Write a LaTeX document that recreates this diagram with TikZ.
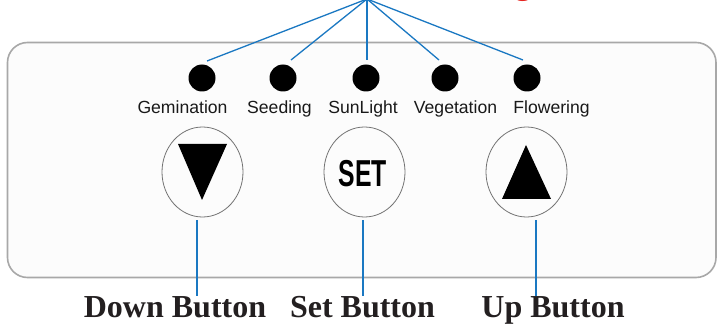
\documentclass[tikz,border=0pt]{standalone}
\usepackage{fontspec}
\usetikzlibrary{shapes.geometric}
\setmainfont{Liberation Serif}
\newfontfamily\arialf{Liberation Sans}
\definecolor{ptr}{HTML}{1A78C2}
\definecolor{frame}{HTML}{A8A8A8}
\definecolor{txt}{HTML}{231F20}
\definecolor{redt}{HTML}{E52521}
\begin{document}
\begin{tikzpicture}[x=1pt,y=-1pt,
  led/.style={circle,fill=black,draw=none,minimum size=27pt,inner sep=0pt},
  ledlabel/.style={anchor=base,inner sep=0pt,font=\arialf\fontsize{17.6}{20}\selectfont,text=black!90},
  btn/.style={ellipse,draw=black!55,line width=0.8pt,minimum width=81pt,minimum height=90pt,inner sep=0pt},
  tri/.style={fill=black},
  ptrline/.style={draw=ptr,line width=1.3pt},
  caption/.style={anchor=base,inner sep=0pt,font=\bfseries\fontsize{32}{36}\selectfont,text=txt}
]
\useasboundingbox (0,0) rectangle (718,326);
\fill[white] (0,0) rectangle (718,326);
% panel
\draw[frame,line width=1.6pt,fill=black!1,rounded corners=20pt] (7.5,42.5) rectangle (716,277.5);
% red fragment of title
\node[anchor=base,inner sep=0pt,font=\bfseries\fontsize{32}{36}\selectfont,text=redt] (ttl) at (523,-5) {g};
% LEDs
\node[led] (l1) at (202,78) {};
\node[led] (l2) at (283,78) {};
\node[led] (l3) at (366,78) {};
\node[led] (l4) at (445,78) {};
\node[led] (l5) at (527,78) {};
\node[ledlabel] (t1) at (182.5,114) {Gemination};
\node[ledlabel] (t2) at (279.5,114) {Seeding};
\node[ledlabel] (t3) at (363,114) {SunLight};
\node[ledlabel] (t4) at (455.5,114) {Vegetation};
\node[ledlabel] (t5) at (551.5,114) {Flowering};
% buttons
\node[btn] (down) at (202.5,172) {};
\node[btn] (set) at (364.5,172) {};
\node[btn] (up) at (526.5,172) {};
\fill[tri] (178,144) -- (227,144) -- (202,200) -- cycle;
\fill[tri] (502,199) -- (551,199) -- (526,145) -- cycle;
\node[anchor=base,inner sep=0pt,xscale=0.66,font=\arialf\bfseries\fontsize{37.5}{40}\selectfont] (settxt) at (363,186) {SET};
% captions
\node[caption] (cd) at (175,317) {Down Button};
\node[caption] (cs) at (362.5,317) {Set Button};
\node[caption] (cu) at (553,317) {Up Button};
% top pointer lines
\coordinate (hub) at (367,-1);
\coordinate (p1) at (207,61);
\coordinate (p2) at (291,60);
\coordinate (p3) at (367,60);
\coordinate (p4) at (439,60);
\coordinate (p5) at (523,60);
\foreach \p in {p1,p2,p3,p4,p5} \draw[ptrline] (hub) -- (\p);
% bottom pointer lines
\coordinate (bd) at (197,220);
\coordinate (bs) at (363,220);
\coordinate (bu) at (536,220);
\draw[ptrline] (bd) -- (bd |- cd.north);
\draw[ptrline] (bs) -- (bs |- cs.north);
\draw[ptrline] (bu) -- (bu |- cu.north);
\end{tikzpicture}
\end{document}
